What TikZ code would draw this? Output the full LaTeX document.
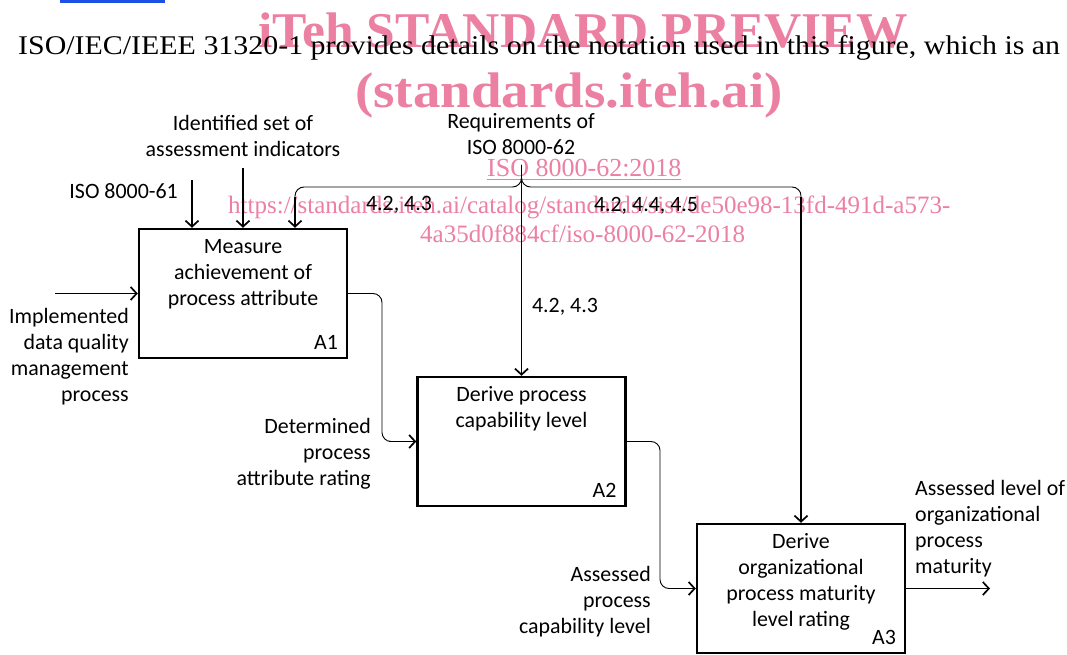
\documentclass[tikz,border=0pt]{standalone}
\usepackage{fontspec}
\setmainfont{Liberation Serif}
\newfontfamily\diagfont{Carlito}
\usepackage{xcolor}
\usetikzlibrary{positioning,arrows.meta}
\definecolor{wmpink}{RGB}{236,128,162}
\definecolor{linkblue}{RGB}{30,80,230}
\newcommand{\diagsize}{\diagfont\fontsize{21.9}{26}\selectfont}
\tikzset{procbox/.style={draw,line width=2.4pt,minimum width=208pt,minimum height=129pt,inner sep=0pt},
  boxtxt/.style={anchor=north,align=center,inner sep=0pt,font=\diagsize,yshift=-7.3pt},
  lbl/.style={inner sep=0pt,font=\diagsize},
  flow/.style={line width=1.7pt,-{Straight Barb[length=6pt,width=13pt,line width=1.7pt]}},
  thinline/.style={line width=0.9pt,rounded corners=9pt},
  wm/.style={inner sep=0pt,text=wmpink,anchor=base west}}

\begin{document}
\begin{tikzpicture}[x=1pt,y=-1pt]
    \useasboundingbox (0,0) rectangle (1067,655);
    % watermark
    \node[wm,font=\bfseries\fontsize{50}{56}\selectfont] (wmtitle) at (258,48) {\scalebox{1.03}[1]{iTeh STANDARD PREVIEW}};
    \node[wm,font=\bfseries\fontsize{50}{56}\selectfont] (wmsite) at (355,108) {\scalebox{1.1}[1]{(standards.iteh.ai)}};
    \node[wm,font=\fontsize{26}{30}\selectfont] (wmiso) at (487,177) {\underline{ISO 8000-62:2018}};
    \node[wm,font=\fontsize{25}{30}\selectfont] (wmurla) at (228,213) {https://standards.iteh.ai/catalog/standards/sist/de50e98-13fd-491d-a573-};
    \node[wm,font=\fontsize{25}{30}\selectfont] (wmurlb) at (420,242) {4a35d0f884cf/iso-8000-62-2018};
    % text of the page above the figure
    \draw[linkblue,line width=2.5pt] (60,1.5)--(165,1.5);
    \node[inner sep=0pt,anchor=base west,font=\fontsize{27}{32}\selectfont] (bodyline) at (18,55)
        {\scalebox{1.108}[1]{ISO/IEC/IEEE 31320-1 provides details on the notation used in this figure, which is an}};

    % activity boxes
    \node[procbox] (a1) at (243,293.5) {};
    \node[procbox] (a2) at (521.5,441.5) {};
    \node[procbox] (a3) at (801,588.5) {};
    \node[boxtxt] (a1txt) at (a1.north) {\strut Measure\\achievement of\\process attribute};
    \node[boxtxt] (a2txt) at (a2.north) {\strut Derive process\\capability level};
    \node[boxtxt] (a3txt) at (a3.north) {\strut Derive\\organizational\\process maturity\\level rating};
    \node[lbl,anchor=base east,xshift=-10pt,yshift=10pt] (a1num) at (a1.south east) {A1};
    \node[lbl,anchor=base east,xshift=-10pt,yshift=10pt] (a2num) at (a2.south east) {A2};
    \node[lbl,anchor=base east,xshift=-10pt,yshift=10pt] (a3num) at (a3.south east) {A3};

    % controls
    \coordinate (ctla) at (192,180);
    \coordinate (ctlb) at (243,168);
    \coordinate (req) at (521.5,165);
    \coordinate (ctlc) at (295,187);
    \coordinate (ctld) at (801,187);
    \node[lbl,anchor=east] (isoa) at (178,191) {ISO 8000-61};
    \node[lbl,align=center] (indic) at (243,136) {Identified set of\\assessment indicators};
    \node[lbl,align=center] (reqtxt) at (521,134) {Requirements of\\ISO 8000-62};
    \draw[flow] (ctla)--(ctla |- a1.north);
    \draw[flow] (ctlb)--(ctlb |- a1.north);
    \draw[flow] (req)--(a2.north);
    \draw[thinline] (req) |- (ctlc) -- ([yshift=-12pt]ctlc);
    \draw[thinline] (req) |- (ctld) -- ([yshift=-12pt]ctld);
    \draw[flow] ([yshift=-10pt]ctlc)--(ctlc |- a1.north);
    \draw[flow] ([yshift=-10pt]ctld)--(a3.north);
    \node[lbl] (refa) at (399,205) {4.2, 4.3};
    \node[lbl] (refb) at (646,206) {4.2, 4.4, 4.5};
    \node[lbl] (refc) at (565,307) {4.2, 4.3};

    % inputs and outputs
    \coordinate (in1) at (55,293.5);
    \coordinate (jn1) at (382,0);
    \coordinate (jn2) at (660,0);
    \coordinate (out3) at (990,588.5);
    \draw[flow] (in1)--(a1.west);
    \draw[thinline] (a1.east) -| (jn1 |- a2.west) -- ([xshift=-26pt]a2.west);
    \draw[flow] ([xshift=-27pt]a2.west)--(a2.west);
    \draw[thinline] (a2.east) -| (jn2 |- a3.west) -- ([xshift=-26pt]a3.west);
    \draw[flow] ([xshift=-27pt]a3.west)--(a3.west);
    \draw[flow] (a3.east)--(out3);
    \node[lbl,align=right,anchor=east] (implem) at (129,357) {Implemented\\data quality\\management\\process};
    \node[lbl,align=right,anchor=east] (determ) at (371,454) {Determined\\process\\attribute rating};
    \node[lbl,align=right,anchor=east] (assess) at (651,601.5) {Assessed\\process\\capability level};
    \node[lbl,align=left,anchor=west] (result) at (915,529) {Assessed level of\\organizational\\process\\maturity};
\end{tikzpicture}
\end{document}
